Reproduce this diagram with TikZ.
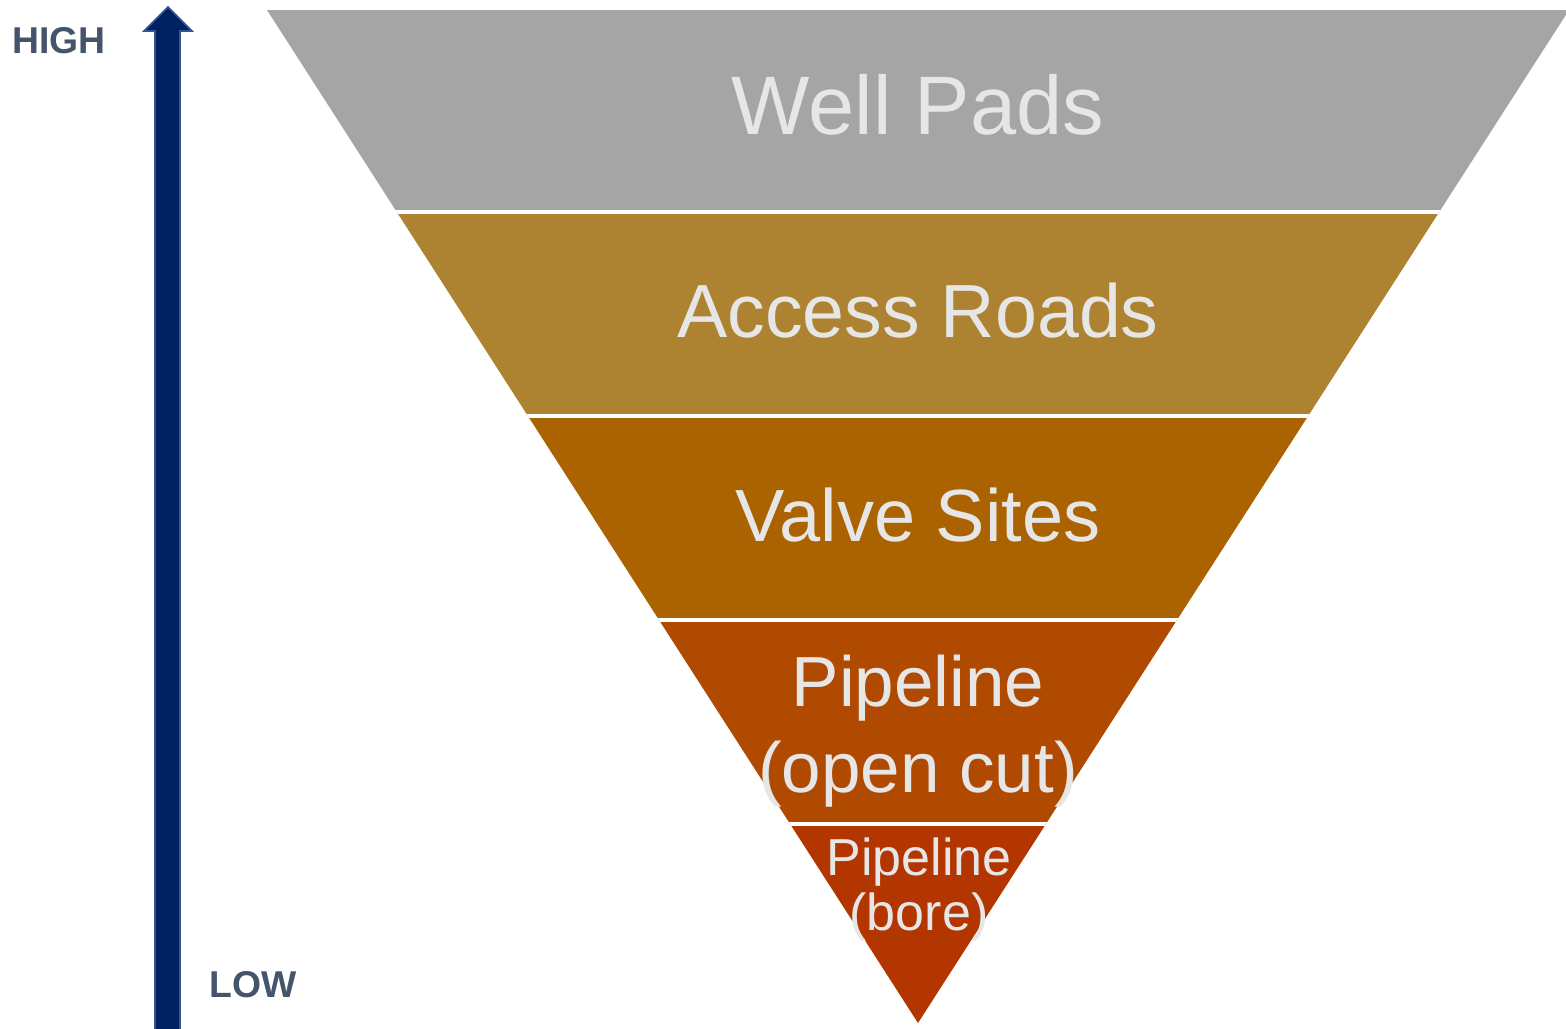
\documentclass[tikz,border=0pt]{standalone}
\usepackage{fontspec}
\setmainfont{Liberation Sans}
\definecolor{bandgray}{HTML}{A5A5A5}
\definecolor{bandochre}{HTML}{AD8230}
\definecolor{bandamber}{HTML}{AB6200}
\definecolor{bandrust}{HTML}{B04A00}
\definecolor{bandred}{HTML}{B33600}
\definecolor{labeltext}{HTML}{E7E6E6}
\definecolor{scaletext}{HTML}{44546A}
\definecolor{arrowfill}{HTML}{002060}
\definecolor{arrowedge}{HTML}{2F5597}
\tikzset{
  bandlabel/.style={text=labeltext, inner sep=0pt, anchor=base},
  scalelabel/.style={text=scaletext, inner sep=0pt, anchor=base, font=\fontsize{28}{30}\selectfont\bfseries},
  separator/.style={draw=white, line width=3pt},
}
\begin{document}
\begin{tikzpicture}[x=0.75pt,y=-0.75pt]
\useasboundingbox (0,0) rectangle (1566,1028);
\fill[white] (0,0) rectangle (1566,1028);

% inverted triangle split into five bands
\begin{scope}
  \clip (0,0) rectangle (1566,1028);
  \clip (267,10) -- (1569,10) -- (918,1023) -- cycle;
  \fill[bandgray]  (200,0)   rectangle (1600,211.5);
  \fill[bandochre] (200,211.5) rectangle (1600,415.5);
  \fill[bandamber] (200,415.5) rectangle (1600,619.5);
  \fill[bandrust]  (200,619.5) rectangle (1600,824);
  \fill[bandred]   (200,824) rectangle (1600,1030);
  \draw[separator] (200,211.5) -- (1600,211.5);
  \draw[separator] (200,415.5) -- (1600,415.5);
  \draw[separator] (200,619.5) -- (1600,619.5);
  \draw[separator] (200,824) -- (1600,824);
\end{scope}

% band labels
\node[bandlabel, font=\fontsize{62.25}{64}\selectfont] (wellpads) at (918,134) {Well Pads};
\node[bandlabel, font=\fontsize{56.5}{59}\selectfont] (roads) at (918,337) {Access Roads};
\node[bandlabel, font=\fontsize{55.5}{57}\selectfont] (valves) at (918,541) {Valve Sites};
\node[bandlabel, font=\fontsize{53.25}{55}\selectfont] (opencut1) at (918,706) {Pipeline};
\node[bandlabel, font=\fontsize{53.25}{55}\selectfont] (opencut2) at (918,792) {(open cut)};
\node[bandlabel, font=\fontsize{39}{41}\selectfont] (bore1) at (919,875) {Pipeline};
\node[bandlabel, font=\fontsize{39}{41}\selectfont] (bore2) at (919,930) {(bore)};

% scale arrow
\filldraw[fill=arrowfill, draw=arrowedge, line width=1.2pt, line join=miter]
  (155,1032) -- (155,31) -- (144,31) -- (168,7) -- (192,31) -- (180,31) -- (180,1032) -- cycle;
\node[scalelabel] (high) at (59,53) {HIGH};
\node[scalelabel] (low) at (253.5,997) {LOW};
\end{tikzpicture}
\end{document}
